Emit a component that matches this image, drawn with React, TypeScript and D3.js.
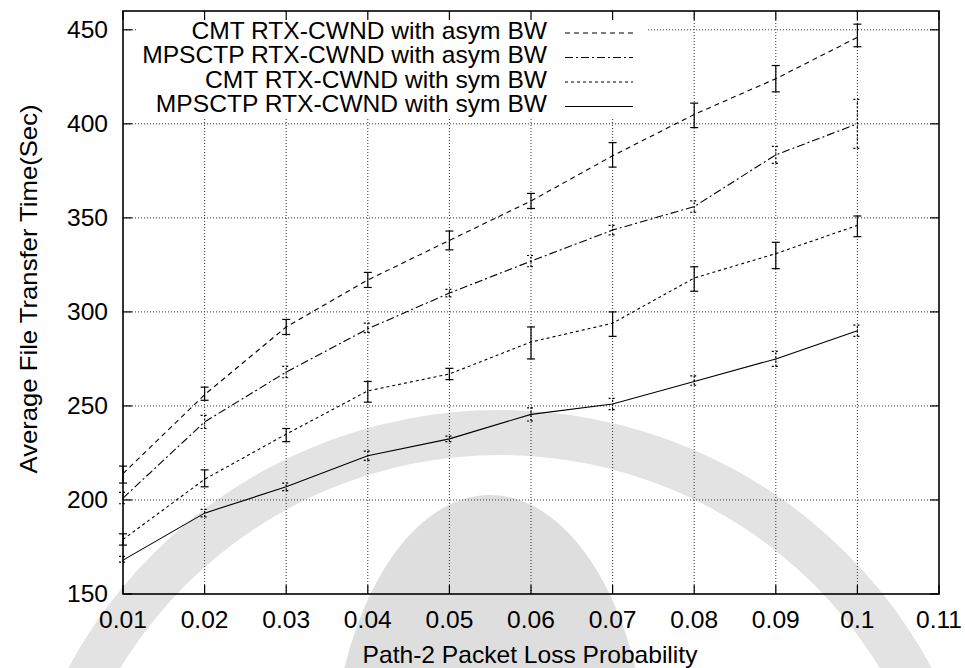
import * as d3 from "d3";
import React from "react";

// x values (path-2 loss probability)
const lossProb = [0.01, 0.02, 0.03, 0.04, 0.05, 0.06, 0.07, 0.08, 0.09, 0.1];

// mean transfer time per series, with error bar bounds
const cmtAsym = [214, 256, 292, 317, 338, 359, 383, 405, 424, 446];
const cmtAsymLo = [209, 253, 288, 313, 333, 355, 377, 398, 417, 441];
const cmtAsymHi = [218, 260, 296, 321, 343, 363, 390, 411, 431, 453];

const mpAsym = [201, 241.5, 268, 291, 310, 327, 343.5, 356, 383.5, 400];
const mpAsymLo = [198, 238, 265, 289, 308, 324, 341, 353, 379, 387];
const mpAsymHi = [204, 245, 271, 294, 312, 330, 346, 359, 388, 413];

const cmtSym = [179, 211, 235, 258, 267, 284, 294, 318, 331, 346];
const cmtSymLo = [176, 207, 231, 252, 264, 275, 287, 311, 323, 340];
const cmtSymHi = [182, 216, 238, 263, 270, 292, 300, 324, 337, 351];

const mpSym = [168, 193, 207, 223.5, 232.5, 245.5, 251, 263, 275, 290];
const mpSymLo = [167, 191, 205, 221, 231, 242, 248, 261, 271, 287];
const mpSymHi = [170, 195, 209, 226, 234, 249, 254, 266, 279, 293];

const xTicks = [0.01, 0.02, 0.03, 0.04, 0.05, 0.06, 0.07, 0.08, 0.09, 0.1, 0.11];
const yTicks = [150, 200, 250, 300, 350, 400, 450];

const seriesNames = [
  "CMT RTX-CWND with asym BW",
  "MPSCTP RTX-CWND with asym BW",
  "CMT RTX-CWND with sym BW",
  "MPSCTP RTX-CWND with sym BW",
];

const W = 965;
const H = 668;
const FONT = "'Liberation Sans', Arial, Helvetica, sans-serif";
const SX = 1.07; // text in the source is slightly stretched horizontally

const x = d3.scaleLinear().domain([0.01, 0.11]).range([123, 939]);
const y = d3.scaleLinear().domain([150, 460]).range([594, 11]);

const series = [
  { name: seriesNames[0], vals: cmtAsym, lo: cmtAsymLo, hi: cmtAsymHi, dash: "5,4", barDash: undefined },
  { name: seriesNames[1], vals: mpAsym, lo: mpAsymLo, hi: mpAsymHi, dash: "8,3,2,3", barDash: "2,2" },
  { name: seriesNames[2], vals: cmtSym, lo: cmtSymLo, hi: cmtSymHi, dash: "3,3", barDash: undefined },
  { name: seriesNames[3], vals: mpSym, lo: mpSymLo, hi: mpSymHi, dash: undefined, barDash: "2,2" },
];

const Txt = ({ x, y, anchor = "middle", rot = 0, size = 23, children }: any) => (
  <text
    transform={`translate(${x},${y}) rotate(${rot}) scale(${SX},1)`}
    textAnchor={anchor}
    fontSize={size}
    fontFamily={FONT}
    fill="#000"
  >
    {children}
  </text>
);

export default function App() {
  const line = d3
    .line<number>()
    .x((_, i) => x(lossProb[i]))
    .y((d) => y(d));

  const [x0, x1] = x.range();
  const [y0, y1] = y.range();

  // watermark (faint logo behind the chart)
  const ring = d3.arc()({
    innerRadius: 445,
    outerRadius: 490,
    startAngle: 0,
    endAngle: 2 * Math.PI,
  } as any);

  return (
    <svg
      width={W}
      height={H}
      style={{ position: "absolute", left: 0, top: 0, display: "block", background: "#fff" }}
    >
      <rect width={W} height={H} fill="#fff" />
      <g>
        <path d={ring!} transform="translate(500,900)" fill="#e3e3e3" />
        <ellipse cx={490} cy={790} rx={160} ry={295} fill="#dedede" />
      </g>

      {/* grid */}
      <g stroke="#333" strokeWidth={1} strokeDasharray="1,2">
        {yTicks.slice(1).map((t) => (
          <line key={"gy" + t} x1={x0} x2={x1} y1={y(t)} y2={y(t)} />
        ))}
        {xTicks.slice(1, -1).map((t) => (
          <line key={"gx" + t} x1={x(t)} x2={x(t)} y1={y0} y2={y1} />
        ))}
      </g>

      {/* key box */}
      <rect x={137} y={12} width={510} height={106} fill="#fff" />

      {/* series */}
      {series.map((s) => (
        <g key={s.name}>
          <path d={line(s.vals)!} fill="none" stroke="#000" strokeWidth={1.1} strokeDasharray={s.dash} />
          <g stroke="#000" strokeWidth={1.2} strokeDasharray={s.barDash}>
            {lossProb.map((p, i) => {
              const cx = x(p);
              return (
                <g key={i}>
                  <line x1={cx} x2={cx} y1={y(s.lo[i])} y2={y(s.hi[i])} />
                  <line x1={cx - 4} x2={cx + 4} y1={y(s.lo[i])} y2={y(s.lo[i])} />
                  <line x1={cx - 4} x2={cx + 4} y1={y(s.hi[i])} y2={y(s.hi[i])} />
                </g>
              );
            })}
          </g>
        </g>
      ))}

      {/* key */}
      {series.map((s, i) => {
        const by = 38.5 + i * 24.5;
        return (
          <g key={"k" + i}>
            <Txt x={547} y={by} anchor="end">
              {s.name}
            </Txt>
            <line x1={565} x2={633} y1={by - 5.5} y2={by - 5.5} stroke="#000" strokeWidth={1.1} strokeDasharray={s.dash} />
          </g>
        );
      })}

      {/* border and ticks */}
      <rect x={x0} y={y1} width={x1 - x0} height={y0 - y1} fill="none" stroke="#000" strokeWidth={1.6} />
      <g stroke="#000" strokeWidth={1.2}>
        {yTicks.map((t) => (
          <g key={"ty" + t}>
            <line x1={x0} x2={x0 + 9} y1={y(t)} y2={y(t)} />
            <line x1={x1} x2={x1 - 9} y1={y(t)} y2={y(t)} />
          </g>
        ))}
        {xTicks.map((t) => (
          <g key={"tx" + t}>
            <line x1={x(t)} x2={x(t)} y1={y0} y2={y0 - 9} />
            <line x1={x(t)} x2={x(t)} y1={y1} y2={y1 + 9} />
          </g>
        ))}
      </g>

      {/* tick labels */}
      {yTicks.map((t) => (
        <Txt key={"ly" + t} x={108} y={y(t) + 8} anchor="end">
          {t}
        </Txt>
      ))}
      {xTicks.map((t) => (
        <Txt key={"lx" + t} x={x(t)} y={628}>
          {String(t)}
        </Txt>
      ))}

      {/* axis titles */}
      <Txt x={530} y={663}>
        Path-2 Packet Loss Probability
      </Txt>
      <Txt x={37} y={289} rot={-90} size={24}>
        Average File Transfer Time(Sec)
      </Txt>
    </svg>
  );
}
